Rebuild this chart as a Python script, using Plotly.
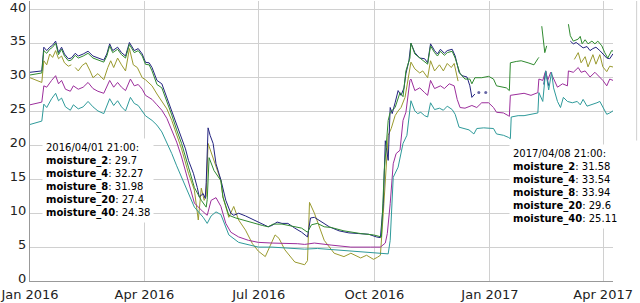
import pandas as pd
import plotly.graph_objects as go

START = pd.Timestamp("2016-01-01")

# ---- data: days since 2016-01-01 and soil moisture values (None = gap) ----
m2_days = [0, 4.7, 9.4, 11.0, 13.3, 15.7, 18.0, 20.4, 22.7, 25.1, 27.4, 30.5, 32.9, 34.0, 36.0, 38.4, 41.5, 44.6, 47.8, 50.1,
           54.0, 58.7, 61.9, 64.2, 66.6, 69.7, 72.8, 76.0, 79.1, 82.2, 85.4, 89.3, 91.875, 97.1, 101.0, 104.9, 108.9, 112.8, 116.7, 120.6,
           126.1, 130.8, 133.9, 136.3, 138.6, 140.2, 141.7, 145.7, 151.9, 153.5, 158.2, 162.1, 166.0, 171.5, 177.0, 181.7, 187.2, 191.1, 195.0, 198.1,
           202.8, 210.7, 218.5, 220.8, 222.4, 226.3, 230.2, 234.1, 242.0, 249.8, 255.3, 263.1, 267.8, 273.3, 276.4, 278.8, 281.1, 283.5, 285.0, 287.4,
           290.5, 292.9, 295.2, 298.4, 300.7, 303.1, 306.2, 310.1, 312.5, 316.4, 318.7, 321.9, 325.8, 328.9, 332.0, 335.2, 337.5, 339.9, 340.6, 380.0,
           433.1, 436.2, 438.5, 441.7, 444.0, 447.9, 450.3, 453.4, 455.8, 458.9, 461.3, 463.875]
m2_vals = [30.0, 29.7, 29.3, 32.5, 31.9, 33.5, 33.0, 34.0, 32.8, 33.2, 32.2, 31.7, 31.9, None, 31.5, 31.0, 31.8, 32.2, 31.0, 30.0,
           30.6, 29.7, 31.5, 32.5, 31.5, 32.9, 31.9, 31.0, 34.3, 31.9, 31.5, 30.0, 29.7, 28.8, 27.6, 26.6, 25.4, 23.7, 21.7, 19.5,
           15.9, 13.4, 9.0, 13.7, 11.9, 12.5, 20.3, 18.2, 14.8, 12.4, 9.4, 11.0, 9.0, 7.5, 5.5, 4.4, 3.6, 5.2, 6.8, 6.3,
           4.6, 2.8, 2.4, 3.0, 11.6, 10.0, 8.0, 6.0, 4.1, 3.6, 4.1, 3.4, 3.8, 3.2, 3.5, 3.8, 10.0, 18.0, 21.5, 22.5,
           24.4, 25.1, 25.6, 27.1, 29.6, 32.3, 31.3, 30.7, 31.0, 30.0, 32.5, 31.0, 31.9, 31.0, 32.1, 31.5, 32.1, 30.0, 29.5, None,
           32.7, 33.7, 32.2, 33.1, 31.6, 33.4, 32.0, 33.4, 31.6, 30.9, 31.7, 31.58]

m4_days = [0, 4.7, 9.4, 11.0, 13.3, 15.7, 18.0, 20.4, 22.7, 25.1, 27.4, 30.5, 32.9, 36.0, 38.4, 42.3, 46.2, 50.1, 54.0, 58.7,
           61.1, 63.4, 65.8, 69.7, 72.8, 76.0, 79.1, 83.0, 86.1, 89.3, 91.875, 94.8, 97.1, 101.0, 104.9, 108.9, 112.8, 116.7, 120.6, 123.7,
           126.1, 130.0, 133.1, 134.7, 137.8, 139.4, 140.2, 141.7, 143.3, 145.7, 148.0, 151.9, 155.8, 159.8, 162.1, 166.0, 171.5, 177.0, 180.9, 184.8,
           189.5, 192.6, 196.6, 200.5, 205.2, 210.7, 216.1, 220.8, 223.2, 226.3, 231.8, 238.1, 245.9, 253.7, 261.6, 269.4, 275.7, 278.8, 281.1, 282.7,
           283.5, 285.0, 286.6, 288.2, 290.5, 292.9, 295.2, 297.6, 299.1, 301.5, 303.1, 306.2, 310.1, 314.0, 316.4, 318.7, 321.9, 324.2, 326.6, 329.7,
           332.0, 335.9, 338.3, 341.4, 343.8, 347.7, 350.0, 351.6, 354.0, 355.5, 357.1, 360.0, 362.6, 380.0, 408.8, 410.3, 412.7, 420.0,
           429.9, 432.3, 434.6, 437.8, 440.1, 443.2, 445.6, 447.9, 450.3, 453.4, 455.8, 458.9, 461.3, 463.875]
m4_vals = [30.8, 30.9, 31.0, 34.5, 34.0, 34.5, 34.8, 35.4, 33.7, 34.5, 33.5, 32.8, 32.9, 33.6, 33.2, 33.5, 33.9, 33.2, 32.9, 32.6,
           33.5, 35.0, 34.0, 34.5, 33.7, 33.2, 35.2, 34.0, 34.3, 33.5, 32.27, 32.2, 31.5, 29.6, 29.1, 27.1, 25.1, 22.9, 21.2, 19.5,
           17.8, 15.9, 13.8, 12.4, 12.9, 12.2, 14.5, 22.6, 21.5, 20.3, 17.3, 14.9, 11.9, 10.0, 9.7, 10.0, 9.6, 9.1, 8.8, 8.5,
           8.0, 8.2, 8.7, 8.5, 8.5, 7.8, 7.2, 6.5, 9.3, 9.4, 8.7, 8.0, 7.4, 7.1, 7.0, 6.9, 6.5, 6.4, 11.4, 20.7,
           19.7, 17.8, 25.6, 24.7, 26.3, 28.1, 27.4, 28.5, 30.6, 32.5, 35.1, 33.7, 32.9, 32.8, 32.2, 35.0, 34.0, 33.5, 34.2, 33.6,
           34.0, 34.2, 33.2, 30.8, 30.3, 30.1, 28.8, 27.1, 27.6, None, 27.8, None, 27.8, None, 29.0, 31.0, 28.8, None,
           35.4, 35.0, 35.2, 34.8, 34.4, 34.6, 34.0, 34.3, 34.5, 34.0, 33.5, 32.9, 32.8, 33.54]

m8_days = [0, 4.7, 9.4, 11.0, 13.3, 15.7, 18.0, 20.4, 22.7, 25.1, 27.4, 30.5, 32.9, 36.0, 38.4, 42.3, 46.2, 50.1, 54.0, 58.7,
           61.1, 63.4, 65.8, 69.7, 72.8, 76.0, 79.1, 83.0, 86.1, 89.3, 91.875, 94.8, 97.1, 101.0, 104.9, 108.9, 112.8, 116.7, 120.6, 126.1,
           130.8, 136.3, 140.2, 141.0, 142.5, 146.4, 151.9, 153.5, 158.2, 163.7, 169.1, 173.8, 179.3, 184.8, 189.5, 193.4, 200.5, 205.2, 210.7, 216.1,
           220.8, 224.0, 228.7, 234.1, 239.6, 249.8, 263.1, 273.3, 279.6, 281.9, 285.0, 286.6, 290.5, 294.4, 296.8, 299.1, 302.3, 303.1, 306.2, 310.9,
           316.4, 318.7, 321.9, 324.2, 326.6, 329.7, 332.0, 335.9, 338.3, 342.2, 346.1, 350.0, 351.6, 354.0, 359.4, 364.9, 368.8, 371.2, 375.1, 379.0,
           381.4, 382.2, 386.9, 390.8, 396.3, 401.0, 404.1, 404.9, 406.0, 407.2, 409.6, 411.1, 420.0, 428.4, 429.9, 432.3, 436.2, 437.8, 439.3, 441.7,
           444.0, 447.1, 449.5, 451.8, 455.0, 457.3, 459.7, 462.8, 463.875]
m8_vals = [30.4, 30.6, 30.7, 34.0, 33.6, 34.2, 34.5, 35.1, 33.4, 34.2, 33.2, 32.5, 32.6, 33.3, 32.9, 33.2, 33.6, 32.9, 32.6, 32.3,
           33.2, 34.7, 33.7, 34.2, 33.4, 32.9, 34.9, 33.7, 34.0, 33.2, 31.98, 31.9, 31.0, 29.0, 28.5, 26.6, 24.5, 22.3, 20.3, 16.8,
           13.8, 11.9, 10.9, 12.0, 18.2, 16.3, 14.8, 12.4, 9.7, 9.3, 9.0, 8.7, 8.5, 8.2, 8.0, 8.4, 8.4, 8.2, 8.0, 7.8,
           7.2, 8.3, 8.5, 8.0, 7.9, 7.4, 7.0, 6.8, 6.5, 16.3, 23.7, 24.9, 25.6, 27.8, 27.2, 31.0, 32.9, 35.1, 33.5, 32.8,
           32.0, 34.7, 33.7, 33.2, 33.9, 33.3, 33.7, 33.9, 32.9, 30.6, 29.8, 29.8, 29.1, 30.0, 30.0, 30.2, 29.8, 28.8, 28.6, 28.5,
           28.1, 32.2, 32.4, 32.5, 32.2, 31.9, 32.8, 33.0, None, 37.6, 33.7, 34.7, None, 37.9, 36.2, 35.4, 35.7, 36.1, 35.0, 35.6,
           35.0, 35.4, 35.0, 35.4, 34.7, 33.7, 32.9, 34.0, 33.94]

m20_days = [0, 4.7, 9.4, 11.0, 13.3, 17.2, 20.4, 22.7, 25.1, 28.2, 32.1, 34.5, 38.4, 42.3, 46.2, 50.1, 54.0, 58.7, 63.4, 66.6,
            69.7, 72.8, 76.0, 79.9, 83.0, 86.1, 89.3, 91.875, 97.1, 101.0, 104.9, 108.9, 112.8, 116.7, 120.6, 126.1, 130.8, 137.8, 141.0, 144.1,
            148.0, 151.9, 155.8, 159.8, 166.0, 173.8, 181.7, 192.6, 202.8, 213.0, 218.5, 226.3, 239.6, 255.3, 271.0, 278.8, 282.7, 284.3, 286.6, 289.0,
            291.3, 294.4, 296.8, 299.1, 302.3, 303.1, 306.2, 310.1, 314.0, 316.4, 318.7, 321.9, 326.6, 329.7, 333.6, 337.5, 339.9, 342.2, 346.1, 351.6,
            355.5, 359.4, 364.9, 368.8, 371.2, 376.7, 380.6, 381.4, 382.2, 388.4, 393.1, 398.6, 404.1, 404.9, 408.0, 410.3, 411.9, 414.3, 416.6, 419.7,
            423.7, 427.6, 428.4, 432.3, 436.2, 438.5, 441.7, 445.6, 449.5, 453.4, 455.8, 458.9, 461.3, 463.875]
m20_vals = [26.0, 26.2, 26.4, 28.8, 28.6, 29.6, 30.3, 29.1, 29.6, 28.3, 28.0, 28.8, 28.3, 28.6, 29.3, 28.4, 28.0, 27.7, 29.6, 28.6,
            29.3, 28.6, 28.1, 29.8, 28.8, 29.0, 28.3, 27.4, 26.8, 26.0, 25.2, 24.0, 22.3, 20.5, 18.3, 14.4, 11.5, 10.2, 9.7, 11.9,
            12.3, 11.0, 8.5, 7.2, 6.5, 6.0, 5.7, 5.6, 5.6, 5.5, 5.4, 5.6, 5.3, 5.0, 5.0, 5.0, 5.6, 7.0, 11.4, 17.3,
            18.8, 19.3, 23.7, 24.9, 29.6, 29.8, 28.1, 28.5, 27.8, 27.4, 29.6, 28.4, 28.8, 28.4, 29.1, 28.8, 26.8, 25.6, 25.5, 25.9,
            25.6, 26.3, 26.3, 25.6, 24.9, 24.8, 24.4, 24.3, 27.4, 27.6, 27.7, 27.4, 27.8, 29.8, 29.6, 31.0, 29.6, 30.8, 29.8, 28.6,
            29.1, 28.8, 31.0, 30.8, 31.5, 30.8, 31.0, 30.1, 30.8, 30.1, 29.6, 28.8, 29.8, 29.6]

m40_days = [0, 4.7, 9.4, 11.0, 13.3, 17.2, 20.4, 22.7, 25.1, 28.2, 32.1, 34.5, 38.4, 42.3, 46.2, 50.1, 54.0, 58.7, 63.4, 66.6,
            69.7, 72.8, 76.0, 79.9, 83.0, 86.1, 89.3, 91.875, 97.1, 101.0, 104.9, 108.9, 112.8, 116.7, 120.6, 126.1, 130.8, 137.8, 141.0, 144.1,
            148.0, 151.9, 158.2, 166.0, 173.8, 181.7, 192.6, 208.3, 218.5, 228.7, 244.3, 260.0, 275.7, 285.0, 286.6, 289.0, 292.9, 296.8, 299.9, 303.1,
            306.2, 308.5, 310.9, 314.0, 316.4, 318.7, 321.9, 325.8, 328.9, 332.0, 335.9, 338.3, 341.4, 345.3, 349.3, 353.2, 355.5, 361.0, 364.9, 368.8,
            371.2, 376.7, 380.6, 382.2, 382.9, 388.4, 393.1, 398.6, 404.1, 404.9, 408.0, 410.3, 412.7, 415.0, 416.6, 419.7, 422.1, 424.4, 427.6, 431.5,
            435.4, 437.8, 440.1, 443.2, 447.1, 451.1, 453.4, 455.8, 458.9, 461.3, 463.875]
m40_vals = [23.1, 23.3, 23.6, 26.1, 25.6, 26.9, 27.7, 26.6, 27.0, 25.7, 25.2, 26.0, 25.4, 25.7, 26.5, 25.7, 25.1, 24.7, 26.9, 25.9,
            26.6, 25.7, 25.1, 27.1, 26.2, 25.9, 25.1, 24.38, 23.7, 23.0, 22.0, 20.5, 18.8, 17.0, 15.3, 12.9, 10.9, 9.4, 8.5, 9.6,
            10.2, 9.8, 6.8, 5.7, 5.3, 5.0, 5.0, 4.8, 4.7, 4.8, 4.6, 4.3, 4.1, 4.0, 6.0, 15.3, 16.8, 20.3, 21.5, 26.6,
            25.1, 24.7, 24.9, 24.4, 24.2, 26.3, 25.3, 25.5, 25.2, 25.8, 25.3, 24.6, 22.7, 22.5, 22.3, 21.7, 22.5, 22.6, 22.5, 22.5,
            21.7, 21.5, 21.2, 21.0, 24.2, 24.4, 24.4, 24.6, 24.8, 27.8, 26.5, 31.0, 28.2, 30.8, 28.5, 26.5, 25.6, 27.1, 26.5, 26.3,
            26.5, 26.0, 26.8, 25.8, 26.0, 26.3, 26.5, 25.6, 24.6, 24.8, 25.11]

names = ["moisture_2", "moisture_4", "moisture_8", "moisture_20", "moisture_40"]
all_days = [m2_days, m4_days, m8_days, m20_days, m40_days]
all_vals = [m2_vals, m4_vals, m8_vals, m20_vals, m40_vals]
colors = ["#9a9a2e", "#23237f", "#2f8a2f", "#9c2e9c", "#2e9a9a"]

label_days = [91.875, 463.875]

x_tick_dates = ["2016-01-01", "2016-04-01", "2016-07-01", "2016-10-01", "2017-01-01", "2017-04-01"]
x_tick_text = ["Jan 2016", "Apr 2016", "Jul 2016", "Oct 2016", "Jan 2017", "Apr 2017"]

for d, v in zip(all_days, all_vals):
    assert len(d) == len(v), (len(d), len(v))


def to_dates(days):
    return [START + pd.Timedelta(days=d) for d in days]


fig = go.Figure()
for name, d, v, c in zip(names, all_days, all_vals, colors):
    sizes = []
    for i, val in enumerate(v):
        prev_none = i == 0 or v[i - 1] is None
        next_none = i == len(v) - 1 or v[i + 1] is None
        sizes.append(3 if (val is not None and prev_none and next_none) else 0)
    fig.add_trace(go.Scatter(
        x=to_dates(d), y=v, name=name, mode="lines+markers",
        line=dict(color=c, width=1), marker=dict(size=sizes, color=c, line=dict(width=0)),
        connectgaps=False, hoverinfo="skip",
    ))

# value labels (legend-like boxes)
anchors = [dict(x=33, top=137), dict(x=507, top=144)]
plot_l, plot_r, plot_b = 21, 27, 22
plot_w = 640 - plot_l - plot_r
plot_h = 303 - plot_b
for day, a in zip(label_days, anchors):
    ts = START + pd.Timedelta(days=day)
    lines = [ts.strftime("%Y/%m/%d %H:%M:")]
    for name, d, v in zip(names, all_days, all_vals):
        val = v[d.index(day)]
        lines.append(f"<b>{name}</b>: {val:g}")
    fig.add_annotation(
        text="<br>".join(lines), xref="paper", yref="paper",
        x=(a["x"] - plot_l) / plot_w, y=(plot_h - a["top"]) / plot_h,
        xanchor="left", yanchor="top", align="left", showarrow=False,
        bgcolor="white", borderpad=3,
        font=dict(family="DejaVu Sans", size=10, color="#000000"),
    )

# thin border line at the right edge of the page area
fig.add_shape(type="line", xref="paper", yref="paper",
              x0=(637 - plot_l) / plot_w, x1=(637 - plot_l) / plot_w,
              y0=1, y1=(plot_h - 140) / plot_h,
              line=dict(color="#cfcfcf", width=1))

fig.update_layout(
    width=640, height=303,
    margin=dict(l=plot_l, r=plot_r, t=0, b=plot_b, pad=0),
    paper_bgcolor="white", plot_bgcolor="white",
    showlegend=False,
    font=dict(family="DejaVu Sans", size=13, color="#222222"),
)
fig.update_xaxes(
    type="date",
    range=[START, START + pd.Timedelta(days=label_days[-1])],
    tickvals=x_tick_dates, ticktext=x_tick_text,
    ticklabeloverflow="allow", ticklabelstandoff=1,
    showgrid=True, gridcolor="#d0d0d0", gridwidth=1,
    showline=True, linecolor="#999999", linewidth=1,
    ticks="", zeroline=False,
)
fig.update_yaxes(
    range=[0, 41.32], tick0=0, dtick=5,
    ticklabelshift=-3, ticklabeloverflow="allow",
    showgrid=True, gridcolor="#d0d0d0", gridwidth=1,
    showline=True, linecolor="#999999", linewidth=1,
    ticks="", zeroline=False,
)

fig.write_html("out.html")
